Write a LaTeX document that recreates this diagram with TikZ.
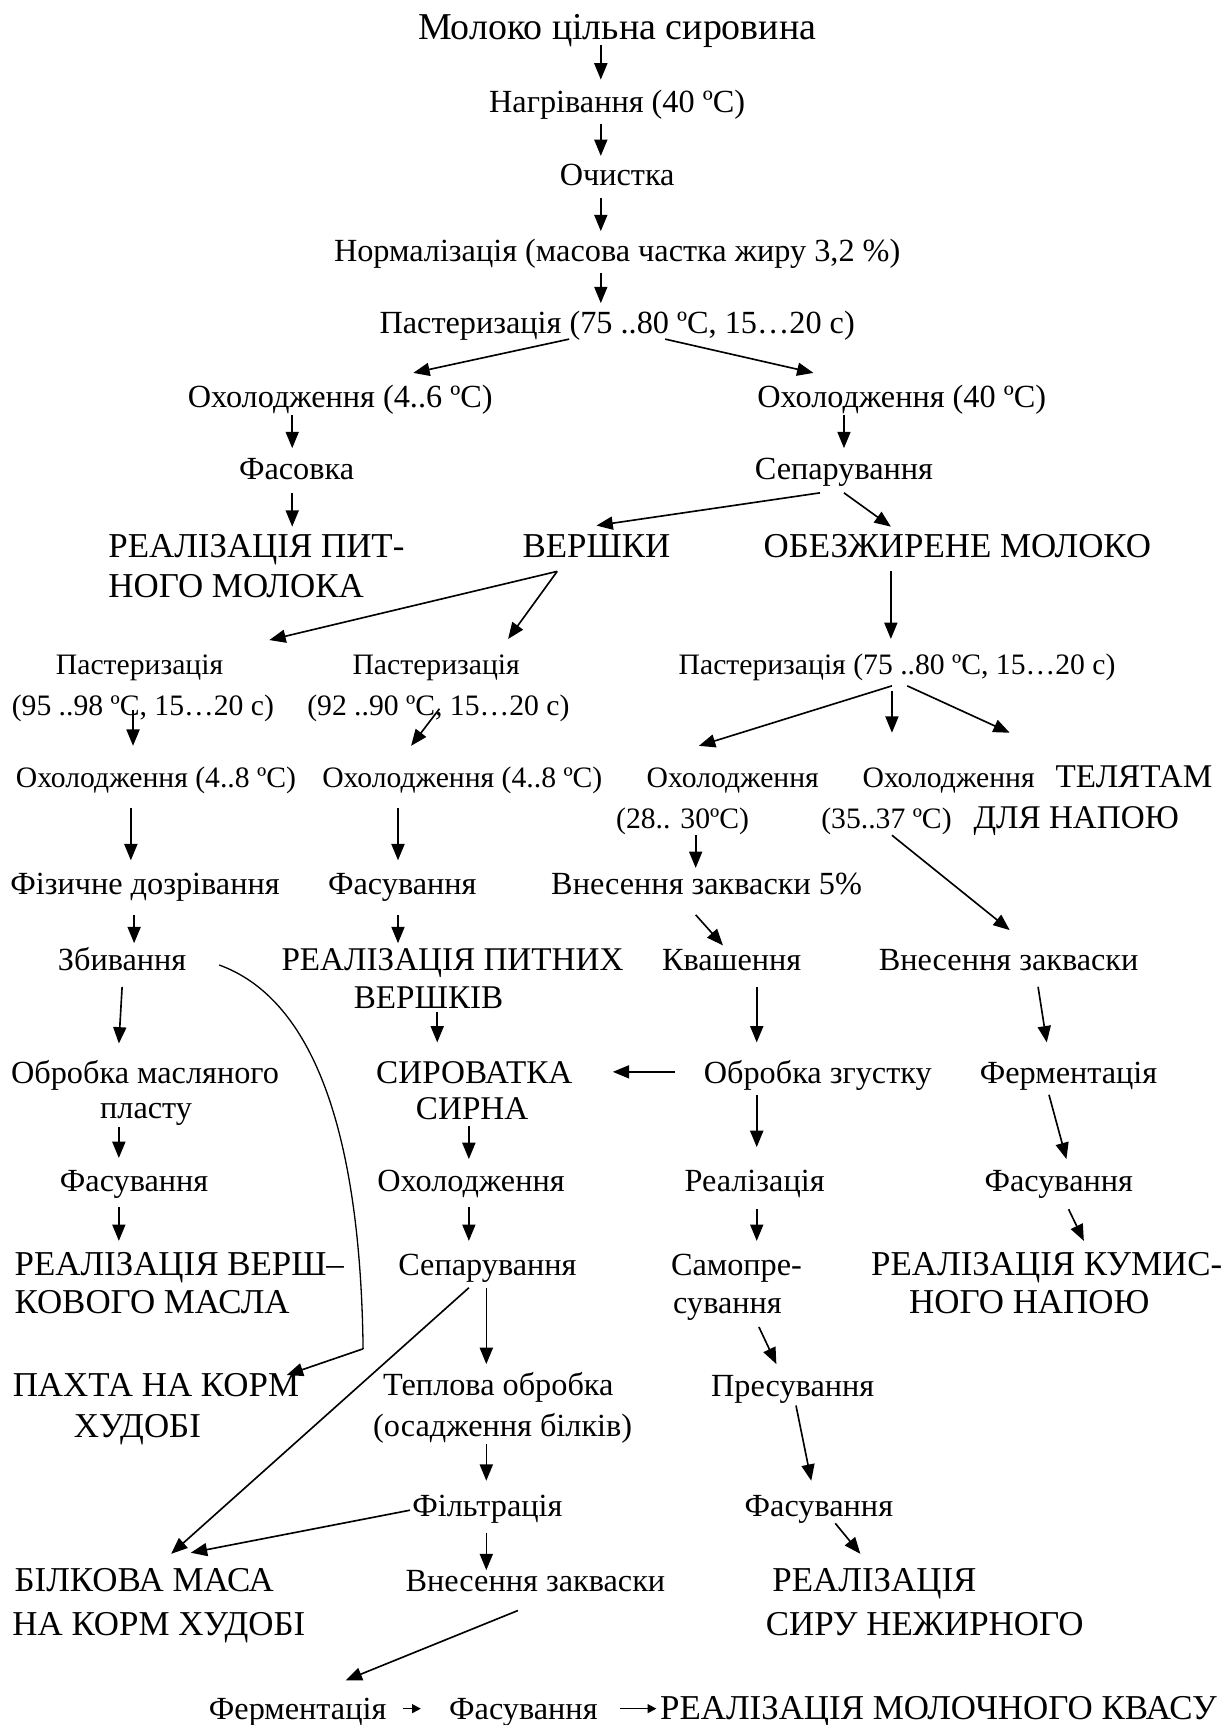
\documentclass[tikz,border=0pt]{standalone}
\usepackage{fontspec}
\setmainfont{Liberation Serif}
\usetikzlibrary{arrows.meta,calc}
\begin{document}
\begin{tikzpicture}[x=0.5pt,y=-0.5pt]
\tikzset{
 sm/.style={inner sep=0pt, anchor=base, font=\fontsize{14.8}{17}\selectfont},
 sml/.style={sm, anchor=base west},
 ss/.style={inner sep=0pt, anchor=base, font=\fontsize{13.6}{16}\selectfont},
 ssl/.style={ss, anchor=base west},
 lg/.style={inner sep=0pt, anchor=base, font=\fontsize{16}{18}\selectfont},
 lgl/.style={lg, anchor=base west},
 md/.style={inner sep=0pt, anchor=base, font=\fontsize{15.2}{17}\selectfont},
 arr/.style={line width=0.75pt, -{Triangle[length=7.5pt,width=6pt]}},
 sarr/.style={line width=0.75pt, -{Triangle[length=4pt,width=4pt]}},
 crv/.style={line width=0.6pt}
}
\useasboundingbox (0,0) rectangle (1128,1582);
% nodes
\node[lg, font=\fontsize{17.4}{20}\selectfont] (title) at (566,36) {Молоко цільна сировина};
\node[sm] (nagr) at (566,103) {Нагрівання (40 ºC)};
\node[sm] (ochyst) at (566,170) {Очистка};
\node[sm] (norm) at (566,240) {Нормалізація (масова частка жиру 3,2 \%)};
\node[sm] (past) at (566,306) {Пастеризація (75 ..80 ºC, 15…20 с)};
\node[sm] (ohol46) at (312,374) {Охолодження (4..6 ºC)};
\node[sm] (ohol40) at (827,374) {Охолодження (40 ºC)};
\node[sm] (fasovka) at (272,440) {Фасовка};
\node[sm] (separ) at (774,440) {Сепарування};
\node[lgl] (realpit1) at (99,511) {РЕАЛІЗАЦІЯ ПИТ-};
\node[lgl] (realpit2) at (99,548) {НОГО МОЛОКА};
\node[lg] (vershky) at (547,511) {ВЕРШКИ};
\node[lg] (obezh) at (878,511) {ОБЕЗЖИРЕНЕ МОЛОКО};
\node[ss] (past95a) at (128,619) {Пастеризація};
\node[ss] (past95b) at (131,656) {(95 ..98 ºC, 15…20 с)};
\node[ss] (past92a) at (400,619) {Пастеризація};
\node[ss] (past92b) at (402,656) {(92 ..90 ºC, 15…20 с)};
\node[ssl] (past75b) at (622,619) {Пастеризація (75 ..80 ºC, 15…20 с)};
\node[ss] (ohol48a) at (143,722) {Охолодження (4..8 ºC)};
\node[ss] (ohol48b) at (424,722) {Охолодження (4..8 ºC)};
\node[ss] (ohol28a) at (672,722) {Охолодження};
\node[ss] (ohol28b) at (626,760) {(28.. 30ºC)};
\node[ss] (ohol35a) at (870,722) {Охолодження};
\node[ss] (ohol35b) at (813,760) {(35..37 ºC)};
\node[md] (tel1) at (1040,722) {ТЕЛЯТАМ};
\node[md] (tel2) at (987,760) {ДЛЯ НАПОЮ};
\node[sm] (fiz) at (133,820) {Фізичне дозрівання};
\node[sm] (fasuv1) at (369,820) {Фасування};
\node[sm] (vnes5) at (648,820) {Внесення закваски 5\%};
\node[sm] (zbyv) at (112,890) {Збивання};
\node[md] (realpytn1) at (415,890) {РЕАЛІЗАЦІЯ ПИТНИХ};
\node[md] (realpytn2) at (393,925) {ВЕРШКІВ};
\node[sm] (kvash) at (671,890) {Квашення};
\node[sm] (vnesZ) at (925,890) {Внесення закваски};
\node[sm] (obrM1) at (133,994) {Обробка масляного};
\node[sm] (obrM2) at (134,1026) {пласту};
\node[md] (syr1) at (435,994) {СИРОВАТКА};
\node[md] (syr2) at (433,1027) {СИРНА};
\node[sm] (obrZg) at (750,994) {Обробка згустку};
\node[sm] (ferm) at (980,994) {Ферментація};
\node[sm] (fasuv2) at (123,1093) {Фасування};
\node[sm] (oholodzh) at (432,1093) {Охолодження};
\node[sm] (realiz) at (692,1093) {Реалізація};
\node[sm] (fasuv3) at (971,1093) {Фасування};
\node[lgl] (realV1) at (13,1170) {РЕАЛІЗАЦІЯ ВЕРШ–};
\node[lgl] (realV2) at (13,1205) {КОВОГО МАСЛА};
\node[sm] (separ2) at (447,1170) {Сепарування};
\node[sml] (samop1) at (615,1170) {Самопре-};
\node[sml] (samop2) at (617,1205) {сування};
\node[lg] (realK1) at (960,1170) {РЕАЛІЗАЦІЯ КУМИС-};
\node[lg] (realK2) at (944,1205) {НОГО НАПОЮ};
\node[lg] (pakhta1) at (143,1281) {ПАХТА НА КОРМ};
\node[lg] (pakhta2) at (126,1318) {ХУДОБІ};
\node[sm] (tepl1) at (457,1280) {Теплова обробка};
\node[sm] (tepl2) at (461,1317) {(осадження білків)};
\node[sm] (presuv) at (727,1281) {Пресування};
\node[sm] (filtr) at (447,1391) {Фільтрація};
\node[sm] (fasuv4) at (751,1391) {Фасування};
\node[lgl] (bilk1) at (13,1460) {БІЛКОВА МАСА};
\node[lgl] (bilk2) at (11,1500) {НА КОРМ ХУДОБІ};
\node[sm] (vnesZ2) at (491,1460) {Внесення закваски};
\node[lgl] (realS1) at (708,1460) {РЕАЛІЗАЦІЯ};
\node[lgl] (realS2) at (702,1500) {СИРУ НЕЖИРНОГО};
\node[sm] (ferm2) at (273,1577) {Ферментація};
\node[sm] (fasuv5) at (480,1577) {Фасування};
\node[lgl] (realMK) at (605,1577) {РЕАЛІЗАЦІЯ МОЛОЧНОГО КВАСУ};
% connectors
\draw[arr] ($(title.base)+(-15,5)$) -- ($(nagr.base)+(-15,-30)$);
\draw[arr] ($(nagr.base)+(-15,11)$) -- ($(ochyst.base)+(-15,-27)$);
\draw[arr] ($(ochyst.base)+(-15,12)$) -- ($(norm.base)+(-15,-28)$);
\draw[arr] ($(norm.base)+(-15,10)$) -- ($(past.base)+(-15,-28)$);
\draw[arr] ($(past.base)+(-44,5)$) -- ($(ohol46.base)+(67,-32)$);
\draw[arr] ($(past.base)+(44,5)$) -- ($(ohol40.base)+(-81,-32)$);
\draw[arr] ($(ohol46.base)+(-44,7)$) -- ($(fasovka.base)+(-4,-29)$);
\draw[arr] ($(fasovka.base)+(-4,12)$) -- ($(realpit1.base west)+(169,-28)$);
\draw[arr] ($(ohol40.base)+(-53,7)$) -- ($(separ.base)+(0,-29)$);
\draw[arr] ($(separ.base)+(-22,12)$) -- ($(vershky.base)+(0,-29)$);
\draw[arr] ($(separ.base)+(0,12)$) -- ($(obezh.base)+(-61,-28)$);
\draw[arr] ($(vershky.base)+(-36,13)$) -- ($(past95a.base)+(119,-32)$);
\draw[arr] ($(vershky.base)+(-36,13)$) -- ($(past92a.base)+(66,-33)$);
\draw[arr] ($(obezh.base)+(-61,13)$) -- ($(past75b.base west)+(195,-33)$);
\draw[arr] ($(past95b.base)+(-9,-5)$) -- ($(ohol48a.base)+(-21,-38)$);
\draw[arr] ($(past92b.base)+(1,-6)$) -- ($(ohol48b.base)+(-47,-38)$);
\draw[arr] ($(past75b.base west)+(196,10)$) -- ($(ohol28a.base)+(-31,-38)$);
\draw[arr] ($(past75b.base west)+(196,15)$) -- ($(ohol35a.base)+(-52,-50)$);
\draw[arr] ($(past75b.base west)+(210,10)$) -- ($(tel1.base)+(-114,-50)$);
\draw[arr] ($(ohol48a.base)+(-23,19)$) -- ($(fiz.base)+(-13,-31)$);
\draw[arr] ($(ohol48b.base)+(-59,19)$) -- ($(fasuv1.base)+(-4,-31)$);
\draw[arr] ($(ohol28b.base)+(12,6)$) -- ($(vnes5.base)+(-10,-24)$);
\draw[arr] ($(ohol35b.base)+(5,6)$) -- ($(vnesZ.base)+(1,-37)$);
\draw[arr] ($(fiz.base)+(-10,19)$) -- ($(zbyv.base)+(11,-25)$);
\draw[arr] ($(fasuv1.base)+(-4,19)$) -- ($(realpytn1.base)+(-50,-25)$);
\draw[arr] ($(vnes5.base)+(-10,19)$) -- ($(kvash.base)+(-8,-23)$);
\draw[arr] ($(zbyv.base)+(0,15)$) -- ($(obrM1.base)+(-24,-37)$);
\coordinate (bend) at (333,1237);
\draw[crv] ($(zbyv.base)+(89,-5)$) .. controls (270,910) and (330,1000) .. (bend);
\draw[arr] (bend) -- ($(pakhta1.base)+(120,-20)$);
\draw[arr] ($(realpytn2.base)+(8,3)$) -- ($(syr1.base)+(-34,-38)$);
\draw[arr] ($(kvash.base)+(23,15)$) -- ($(obrZg.base)+(-56,-38)$);
\draw[arr] ($(vnesZ.base)+(27,15)$) -- ($(ferm.base)+(-20,-38)$);
\draw[arr] ($(obrZg.base)+(-131,-11)$) -- ($(syr1.base)+(127,-11)$);
\draw[arr] ($(obrM2.base)+(-25,8)$) -- ($(fasuv2.base)+(-14,-31)$);
\draw[arr] ($(syr2.base)+(-3,6)$) -- ($(oholodzh.base)+(-2,-30)$);
\draw[arr] ($(obrZg.base)+(-56,10)$) -- ($(realiz.base)+(2,-41)$);
\draw[arr] ($(ferm.base)+(-18,10)$) -- ($(fasuv3.base)+(7,-30)$);
\draw[arr] ($(fasuv2.base)+(-14,14)$) -- ($(realV1.base west)+(96,-32)$);
\draw[arr] ($(oholodzh.base)+(-2,14)$) -- ($(separ2.base)+(-17,-32)$);
\draw[arr] ($(realiz.base)+(2,16)$) -- ($(samop1.base west)+(79,-32)$);
\draw[arr] ($(fasuv3.base)+(9,16)$) -- ($(realK1.base)+(34,-32)$);
\draw[arr] ($(separ2.base)+(-17,11)$) -- ($(bilk1.base west)+(144,-35)$);
\draw[arr] ($(separ2.base)+(-1,11)$) -- ($(tepl1.base)+(-11,-29)$);
\draw[arr] ($(samop2.base west)+(79,12)$) -- ($(presuv.base)+(-15,-30)$);
\draw[arr] ($(tepl2.base)+(-15,7)$) -- ($(filtr.base)+(-1,-33)$);
\draw[arr] ($(presuv.base)+(3,8)$) -- ($(fasuv4.base)+(-7,-33)$);
\draw[arr] ($(filtr.base)+(-71,-6)$) -- ($(bilk1.base west)+(162,-36)$);
\draw[arr] ($(filtr.base)+(-1,15)$) -- ($(vnesZ2.base)+(-45,-20)$);
\draw[arr] ($(fasuv4.base)+(15,6)$) -- ($(realS1.base west)+(81,-35)$);
\draw[arr] ($(vnesZ2.base)+(-16,17)$) -- ($(ferm2.base)+(44,-36)$);
\draw[sarr] ($(ferm2.base)+(97,-10)$) -- ($(fasuv5.base)+(-94,-10)$);
\draw[sarr] ($(fasuv5.base)+(89,-10)$) -- ($(realMK.base west)+(-3,-10)$);
\end{tikzpicture}
\end{document}
